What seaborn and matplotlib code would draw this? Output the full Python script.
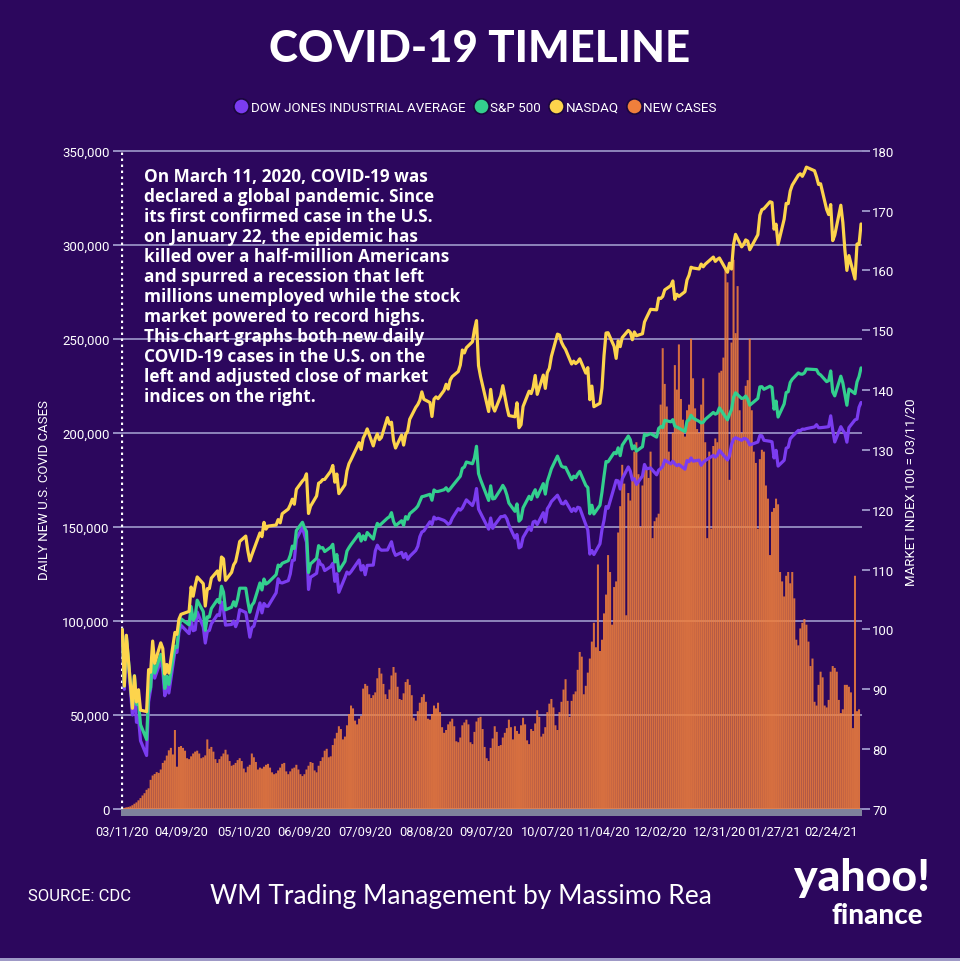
"""COVID-19 timeline: daily new U.S. cases against the major market indices."""

import numpy as np
import pandas as pd
import matplotlib
matplotlib.use("Agg")
import matplotlib.pyplot as plt
from matplotlib.lines import Line2D
from matplotlib.patches import Rectangle
import seaborn as sns

START = pd.Timestamp("2020-03-11")
END = pd.Timestamp("2021-03-11")

# ── Data ─────────────────────────────────────────────────────────────────
# daily new U.S. cases (thousands), one row per week, each row starts on a Wednesday
NEW_CASES_K = [
    0.5, 0.6, 0.9, 1.1, 1.4, 2.0, 2.8,
    3.5, 4.6, 5.8, 7.2, 8.4, 10.2, 11.0,
    15.5, 17.8, 18.6, 19.6, 19.2, 21.0, 24.5,
    25.8, 28.4, 31.2, 32.5, 29.0, 42.0, 22.5,
    33.0, 33.5, 32.5, 31.0, 27.0, 26.5, 28.0,
    29.5, 30.5, 31.0, 29.5, 27.0, 27.5, 28.5,
    37.0, 32.0, 33.0, 30.5, 26.5, 24.5, 26.5,
    28.0, 29.5, 31.5, 29.0, 25.5, 23.0, 23.5,
    24.5, 26.0, 27.0, 25.5, 21.5, 19.5, 22.5,
    23.5, 29.5, 27.5, 25.0, 21.0, 22.0, 21.5,
    22.5, 23.5, 24.0, 22.0, 19.5, 18.5, 19.0,
    20.5, 22.0, 24.0, 24.5, 20.0, 18.5, 20.0,
    21.5, 22.0, 23.5, 21.0, 18.5, 17.5, 18.5,
    21.0, 23.0, 25.0, 24.5, 20.5, 19.5, 23.0,
    25.5, 27.5, 31.0, 32.0, 27.5, 28.0, 34.0,
    37.5, 40.5, 44.0, 42.5, 37.0, 38.5, 44.5,
    50.5, 55.0, 53.5, 47.0, 45.0, 48.0, 49.5,
    64.0, 66.5, 65.5, 61.0, 59.0, 60.5, 62.0,
    69.5, 75.0, 72.0, 66.5, 61.0, 58.5, 63.5,
    71.0, 75.5, 72.5, 65.0, 58.5, 58.0, 61.5,
    67.5, 69.0, 66.0, 60.5, 48.5, 47.0, 52.0,
    56.5, 59.5, 61.0, 57.0, 48.0, 47.5, 50.5,
    55.0, 53.5, 56.5, 51.5, 43.5, 40.5, 42.0,
    45.0, 46.5, 48.0, 44.0, 36.0, 35.5, 38.0,
    44.5, 46.0, 47.5, 45.0, 35.5, 34.5, 41.0,
    46.5, 48.5, 49.0, 42.5, 33.0, 27.0, 25.5,
    32.5, 37.5, 44.0, 41.0, 33.5, 34.0, 38.0,
    40.5, 43.0, 47.5, 43.5, 37.0, 44.0, 41.5,
    40.0, 44.5, 48.5, 45.0, 36.5, 34.5, 42.5,
    41.5, 45.5, 52.5, 49.0, 38.5, 40.0, 43.5,
    51.5, 56.0, 58.5, 54.0, 44.5, 42.0, 51.5,
    57.0, 63.5, 69.0, 57.5, 49.0, 57.5, 61.0,
    62.5, 74.0, 83.5, 81.0, 61.0, 65.5, 72.5,
    80.0, 89.0, 99.0, 86.0, 130.0, 84.0, 90.0,
    104.0, 114.0, 135.0, 126.0, 98.0, 118.0, 121.0,
    147.0, 161.0, 183.0, 173.0, 103.0, 168.0, 164.0,
    175.0, 190.0, 195.0, 178.0, 150.0, 172.0, 182.0,
    182.0, 176.0, 190.0, 144.0, 153.0, 155.0, 157.0,
    215.0, 245.0, 226.0, 214.0, 190.0, 183.0, 200.0,
    236.0, 223.0, 247.0, 218.0, 207.0, 198.0, 212.0,
    215.0, 250.0, 229.0, 213.0, 202.0, 200.0, 215.0,
    229.0, 195.0, 144.0, 190.0, 149.0, 193.0, 197.0,
    195.0, 232.0, 233.0, 240.0, 288.0, 280.0, 175.0,
    248.0, 292.0, 253.0, 278.0, 212.0, 200.0, 218.0,
    225.0, 228.0, 250.0, 212.0, 190.0, 184.0, 149.0,
    186.0, 191.0, 190.0, 172.0, 165.0, 135.0, 158.0,
    160.0, 165.0, 162.0, 126.0, 121.0, 113.0, 124.0,
    126.0, 120.0, 126.0, 112.0, 90.0, 87.0, 96.0,
    99.0, 101.0, 98.0, 89.0, 76.0, 80.0, 57.0,
    55.0, 66.0, 73.0, 70.0, 55.0, 54.0, 58.0,
    73.0, 76.0, 75.0, 73.0, 58.0, 51.0, 53.0,
    66.0, 66.0, 65.0, 62.0, 43.0, 124.0, 52.0,
    53.0,
]

# market holidays inside the window (no closes on these days)
HOLIDAYS = [
    "2020-04-10", "2020-05-25", "2020-07-03", "2020-09-07", "2020-11-26",
    "2020-12-25", "2021-01-01", "2021-01-18", "2021-02-15",
]

# closes, one row per month (Mar 2020 ... Mar 2021)
DOW_CLOSE = [
    23553, 21200, 23185, 20189, 21237, 19899, 20087, 19174, 18592, 20704, 21200, 22552, 21637, 22327, 21917,
    20943, 21413, 21053, 22680, 22654, 23434, 23719, 23390, 23950, 23504, 23538, 24242, 23650, 23019, 23475, 23516, 23775, 24134, 24101, 24634, 24346,
    23724, 23750, 23883, 23664, 23875, 24331, 24222, 23764, 23248, 23625, 23685, 24597, 24206, 24576, 24474, 24465, 24995, 25548, 25401, 25383,
    25475, 25742, 26270, 26282, 27111, 27572, 27272, 26990, 25128, 25606, 25763, 26290, 26120, 26080, 25871, 26025, 26156, 25445, 25746, 25016, 25596, 25813,
    25735, 25827, 26287, 25890, 26067, 25706, 26075, 26086, 26643, 26870, 26735, 26672, 26681, 26841, 27006, 26653, 26470, 26585, 26380, 26540, 26314, 26428,
    26664, 26828, 27202, 27387, 27433, 27791, 27687, 27977, 27897, 27931, 27844, 27778, 27692, 27739, 27930, 28308, 28249, 28332, 28492, 28654, 28430,
    28646, 29100, 28292, 28133, 27501, 27940, 27535, 27666, 27993, 27996, 28032, 27902, 27657, 27148, 27289, 26763, 26815, 27174, 27584, 27452, 27782,
    27817, 27683, 28149, 27773, 28304, 28426, 28587, 28838, 28680, 28515, 28494, 28606, 28196, 28309, 28211, 28364, 28336, 27685, 27464, 26520, 26660, 26502,
    26925, 27481, 27848, 28391, 28323, 29158, 29421, 29398, 29080, 29480, 29950, 29784, 29438, 29483, 29263, 29592, 30046, 29873, 29910, 29639,
    29824, 29884, 29969, 30218, 30070, 30174, 30068, 29999, 30046, 29861, 30200, 30155, 30303, 30179, 30216, 30015, 30130, 30200, 30404, 30335, 30409, 30606,
    30223, 30392, 30829, 31041, 31098, 30998, 31068, 31060, 30991, 30814, 30930, 31188, 31176, 30997, 30960, 30937, 30303, 30603, 29983,
    30212, 30688, 30724, 31056, 31148, 31386, 31376, 31438, 31431, 31458, 31523, 31613, 31494, 31494, 31522, 31537, 31962, 31402, 30932,
    31535, 31391, 31270, 30924, 31496, 31802, 31833, 32297, 32485,
]
SP500_CLOSE = [
    2741, 2481, 2711, 2386, 2529, 2398, 2409, 2305, 2237, 2447, 2476, 2630, 2541, 2627, 2585,
    2471, 2527, 2489, 2664, 2659, 2750, 2790, 2762, 2846, 2784, 2800, 2875, 2823, 2737, 2799, 2798, 2837, 2878, 2863, 2939, 2912,
    2831, 2843, 2868, 2848, 2881, 2930, 2930, 2870, 2820, 2852, 2864, 2954, 2922, 2972, 2949, 2955, 2992, 3036, 3030, 3044,
    3056, 3081, 3123, 3112, 3194, 3232, 3207, 3190, 3002, 3041, 3067, 3125, 3114, 3116, 3098, 3118, 3131, 3050, 3084, 3009, 3053, 3100,
    3116, 3130, 3180, 3146, 3170, 3152, 3185, 3155, 3197, 3227, 3216, 3225, 3251, 3257, 3276, 3236, 3216, 3239, 3218, 3258, 3246, 3271,
    3295, 3306, 3328, 3349, 3351, 3360, 3333, 3380, 3373, 3373, 3381, 3390, 3375, 3385, 3397, 3431, 3443, 3479, 3485, 3508, 3500,
    3527, 3580, 3455, 3427, 3332, 3399, 3339, 3341, 3384, 3401, 3385, 3357, 3320, 3282, 3316, 3237, 3247, 3298, 3351, 3336, 3363,
    3381, 3348, 3409, 3361, 3419, 3447, 3477, 3535, 3512, 3489, 3484, 3484, 3427, 3443, 3436, 3453, 3465, 3401, 3391, 3271, 3310, 3270,
    3310, 3370, 3443, 3510, 3509, 3551, 3546, 3573, 3537, 3585, 3627, 3610, 3568, 3582, 3558, 3578, 3636, 3630, 3638, 3622,
    3662, 3670, 3666, 3699, 3692, 3702, 3672, 3668, 3663, 3647, 3695, 3701, 3722, 3709, 3694, 3687, 3690, 3703, 3735, 3727, 3732, 3756,
    3701, 3727, 3748, 3804, 3825, 3799, 3801, 3810, 3795, 3768, 3799, 3852, 3853, 3841, 3855, 3849, 3750, 3787, 3714,
    3774, 3826, 3830, 3872, 3887, 3916, 3911, 3910, 3916, 3934, 3932, 3931, 3913, 3907, 3876, 3881, 3925, 3829, 3811,
    3901, 3870, 3820, 3768, 3842, 3821, 3875, 3899, 3939,
]
NASDAQ_CLOSE = [
    7952, 7201, 7875, 6905, 7335, 6989, 7151, 6880, 6861, 7418, 7384, 7798, 7502, 7774, 7700,
    7360, 7487, 7373, 7913, 7887, 8090, 8153, 8192, 8516, 8394, 8533, 8650, 8561, 8263, 8495, 8495, 8634, 8730, 8607, 8915, 8890,
    8605, 8711, 8810, 8854, 8980, 9121, 9193, 9002, 8863, 8943, 9015, 9235, 9185, 9375, 9285, 9325, 9340, 9412, 9369, 9490,
    9552, 9608, 9683, 9616, 9814, 9925, 9953, 10020, 9493, 9589, 9726, 9895, 9911, 9943, 9946, 10056, 10131, 9909, 10017, 9757, 9875, 10059,
    10155, 10208, 10434, 10344, 10493, 10548, 10617, 10391, 10489, 10551, 10474, 10503, 10767, 10680, 10706, 10462, 10363, 10536, 10402, 10543, 10587, 10745,
    10903, 10941, 10998, 11109, 11011, 10968, 10782, 11012, 11042, 11019, 11129, 11210, 11146, 11265, 11312, 11380, 11466, 11665, 11626, 11696, 11775,
    11939, 12056, 11458, 11313, 10848, 11142, 10920, 10854, 11057, 11191, 11050, 10910, 10794, 10778, 10964, 10633, 10672, 10914, 11118, 11086, 11168,
    11327, 11076, 11332, 11155, 11365, 11421, 11580, 11876, 11864, 11768, 11714, 11672, 11479, 11517, 11485, 11507, 11548, 11359, 11431, 11005, 11186, 10912,
    10958, 11161, 11591, 11891, 11895, 11713, 11554, 11787, 11710, 11830, 11925, 11900, 11802, 11905, 11855, 11881, 12037, 12095, 12206, 12199,
    12355, 12350, 12377, 12464, 12520, 12583, 12339, 12406, 12378, 12440, 12595, 12658, 12765, 12755, 12742, 12807, 12771, 12805, 12900, 12843, 12870, 12888,
    12699, 12819, 12741, 13067, 13202, 13036, 13072, 13128, 13112, 12998, 13197, 13457, 13530, 13543, 13635, 13626, 13271, 13337, 13070,
    13403, 13613, 13610, 13778, 13856, 13988, 14007, 13973, 14026, 14095, 14047, 13966, 13865, 13874, 13533, 13465, 13598, 13119, 13192,
    13589, 13359, 12998, 12723, 12920, 12609, 13073, 13069, 13340,
]

TICK_DATES = [
    "2020-03-11", "2020-04-09", "2020-05-10", "2020-06-09", "2020-07-09", "2020-08-08", "2020-09-07",
    "2020-10-07", "2020-11-04", "2020-12-02", "2020-12-31", "2021-01-27", "2021-02-24",
]
TICK_LABELS = [
    "03/11/20", "04/09/20", "05/10/20", "06/09/20", "07/09/20", "08/08/20", "09/07/20",
    "10/07/20", "11/04/20", "12/02/20", "12/31/20", "01/27/21", "02/24/21",
]
CASE_TICKS = [0, 50000, 100000, 150000, 200000, 250000, 300000, 350000]
INDEX_TICKS = [70, 80, 90, 100, 110, 120, 130, 140, 150, 160, 170, 180]

SERIES = ["DOW JONES INDUSTRIAL AVERAGE", "S&P 500", "NASDAQ", "NEW CASES"]
ANNOTATION = (
    "On March 11, 2020, COVID-19 was\n"
    "declared a global pandemic. Since\n"
    "its first confirmed case in the U.S.\n"
    "on January 22, the epidemic has\n"
    "killed over a half-million Americans\n"
    "and spurred a recession that left\n"
    "millions unemployed while the stock\n"
    "market powered to record highs.\n"
    "This chart graphs both new daily\n"
    "COVID-19 cases in the U.S. on the\n"
    "left and adjusted close of market\n"
    "indices on the right."
)

# ── Style ────────────────────────────────────────────────────────────────
BG = "#2c075d"
GRID = "#a8a5d4"
BAND = "#7f829c"
COLORS = {
    "DOW JONES INDUSTRIAL AVERAGE": "#7b3cf0",
    "S&P 500": "#33cf8e",
    "NASDAQ": "#fdd44c",
    "NEW CASES": "#f07f3c",
}
NARROW = ["Roboto", "DejaVu Sans"]
BODY = ["Open Sans", "DejaVu Sans"]
HEAVY = ["Lato", "DejaVu Sans"]

FIG_W, FIG_H = 960, 962
AX_L, AX_R, AX_T, AX_B = 121, 862, 146, 818      # axes box in pixels
ZERO_Y, TOP_Y = 810.0, 151.7                       # pixel rows of 0 / 350,000
DAY0_X, PX_PER_DAY = 122.3, 2.024


def px_x(x: float) -> float:
    return x / FIG_W


def px_y(y: float) -> float:
    return 1 - y / FIG_H


def main() -> None:
    sns.set_theme(style="white")
    plt.rcParams["font.family"] = NARROW
    plt.rcParams["axes.unicode_minus"] = False

    days = np.arange(len(NEW_CASES_K))
    cases = pd.DataFrame({"day": days, "cases": np.array(NEW_CASES_K) * 1000})

    holidays = pd.to_datetime(HOLIDAYS)
    trade_dates = pd.date_range(START, END, freq=pd.offsets.CustomBusinessDay(holidays=holidays))
    trade_days = (trade_dates - START).days
    market = pd.concat(
        [
            pd.DataFrame({"day": trade_days, "value": np.array(closes) / closes[0] * 100, "index": name})
            for name, closes in zip(SERIES[:3], [DOW_CLOSE, SP500_CLOSE, NASDAQ_CLOSE])
        ],
        ignore_index=True,
    )

    fig = plt.figure(figsize=(FIG_W / 100, FIG_H / 100), dpi=100, facecolor=BG)
    ax = fig.add_axes([px_x(AX_L), px_y(AX_B), (AX_R - AX_L) / FIG_W, (AX_B - AX_T) / FIG_H])
    ax.set_facecolor(BG)

    case_per_px = 350000 / (ZERO_Y - TOP_Y)
    idx_per_px = 110 / (ZERO_Y - TOP_Y)
    ax.set_ylim((ZERO_Y - AX_B) * case_per_px, (ZERO_Y - AX_T) * case_per_px)

    # gridlines and grey base band under the bars
    for t in CASE_TICKS:
        ax.axhline(t, color=GRID, lw=1.1, zorder=0)
    ax.axhspan(-7 * case_per_px, 0, color=BAND, lw=0, zorder=0.5)

    sns.barplot(
        data=cases, x="day", y="cases", native_scale=True, width=1.0,
        color=COLORS["NEW CASES"], saturation=1, alpha=0.87,
        linewidth=0, errorbar=None, ax=ax, zorder=1,
    )
    for bar in ax.patches:
        bar.set_snap(False)
    ax.vlines(0, 0, 350000, colors="white", linestyles=(0, (1.1, 1.6)), lw=1.6, zorder=3)

    ax.set_xlim((AX_L - DAY0_X) / PX_PER_DAY, (AX_R - DAY0_X) / PX_PER_DAY)
    ax.set_yticks(CASE_TICKS)
    ax.set_yticklabels([f"{t:,}" for t in CASE_TICKS])
    ax.set_xticks([(pd.Timestamp(d) - START).days for d in TICK_DATES])
    ax.set_xticklabels(TICK_LABELS)
    ax.tick_params(axis="y", length=6, width=1.2, color=GRID, pad=2, labelsize=9.5, labelcolor="white")
    ax.tick_params(axis="x", length=0, pad=6, labelsize=9.2, labelcolor="white")
    ax.set_xlabel("")
    ax.set_ylabel("")
    for s in ax.spines.values():
        s.set_visible(False)

    ax2 = ax.twinx()
    sns.lineplot(
        data=market, x="day", y="value", hue="index", hue_order=SERIES[:3],
        palette=COLORS, linewidth=2.3, legend=False, ax=ax2,
    )
    ax2.set_ylim(70 + (ZERO_Y - AX_B) * idx_per_px, 70 + (ZERO_Y - AX_T) * idx_per_px)
    ax2.set_yticks(INDEX_TICKS)
    ax2.tick_params(axis="y", length=6, width=1.2, color=GRID, pad=1.5, labelsize=9.5, labelcolor="white")
    ax2.set_xlabel("")
    ax2.set_ylabel("")
    for s in ax2.spines.values():
        s.set_visible(False)

    # text block
    fig.text(px_x(144), px_y(168), ANNOTATION, ha="left", va="top", color="white",
             family=BODY, weight="bold", size=12.4, linespacing=1.14)

    fig.text(0.5, px_y(49), "COVID-19 TIMELINE", ha="center", va="center", color="white",
             family=HEAVY, weight="black", size=31.5)

    handles = [
        Line2D([], [], ls="", marker="o", markersize=11, markerfacecolor=COLORS[s],
               markeredgecolor="#1a063d", markeredgewidth=1.2)
        for s in SERIES
    ]
    leg = fig.legend(handles, SERIES, loc="center", bbox_to_anchor=(px_x(475), px_y(108)),
                     ncol=4, frameon=False, handletextpad=0.1, columnspacing=0.55,
                     handlelength=1.2, prop={"family": NARROW, "size": 9.6})
    for t in leg.get_texts():
        t.set_color("white")

    fig.text(px_x(45), px_y(490), "DAILY NEW U.S. COVID CASES", rotation=90, ha="center",
             va="center", color="white", size=9.5)
    fig.text(px_x(912), px_y(492), "MARKET INDEX 100 = 03/11/20", rotation=90, ha="center",
             va="center", color="white", size=9.5)

    fig.text(px_x(28), px_y(897), "SOURCE: CDC", ha="left", va="center", color="white", size=12)
    fig.text(px_x(461), px_y(897), "WM Trading Management by Massimo Rea", ha="center",
             va="center", color="white", family=HEAVY, weight="normal", size=19)
    fig.text(px_x(930), px_y(878), "yahoo!", ha="right", va="center", color="white",
             family=HEAVY, weight="black", size=32)
    fig.text(px_x(923), px_y(916), "finance", ha="right", va="center", color="white",
             family=HEAVY, weight="black", size=20)

    fig.patches.append(Rectangle((0, 0), 1, 3 / FIG_H, transform=fig.transFigure,
                                 color="#9e99c6", lw=0))

    fig.savefig("out.png", dpi=100, facecolor=BG)


if __name__ == "__main__":
    main()
